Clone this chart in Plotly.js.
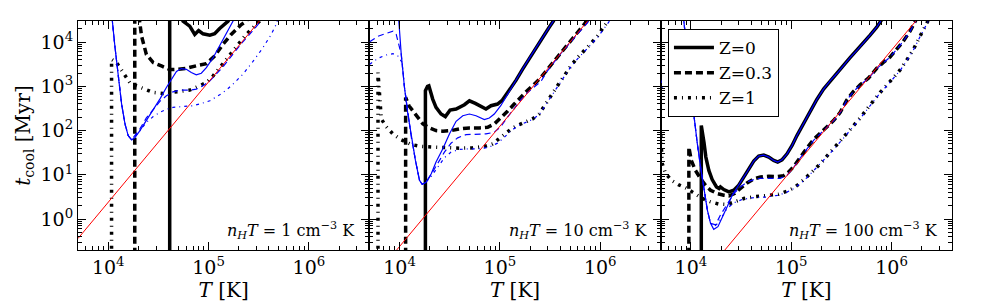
<!DOCTYPE html>
<html>
<head>
<meta charset="utf-8">
<script src="https://cdn.plot.ly/plotly-3.0.1.min.js"></script>
<style>
html,body{margin:0;padding:0;background:#fff;}
#chart{width:981px;height:302px;}
</style>
</head>
<body>
<div id="chart"></div>
<script>
// ---------- Panel 1: nH T = 1 cm^-3 K ----------
const p1_z0_T  = [4.1e4, 4.1e4, null, 5.4e4, 5.57e4, 6.49e4, 7.28e4, 7.96e4, 8.81e4, 1.03e5, 1.15e5, 1.29e5, 1.45e5, 1.56e5, 1.7e5];
const p1_z0_t  = [0.05, 1e6, null, 3.6e4, 2.96e4, 2.29e4, 1.49e4, 1.83e4, 1.54e4, 1.44e4, 1.54e4, 2.03e4, 2.58e4, 2.96e4, 4e4];
const p1_z03_T = [1.84e4, 1.84e4, null, 2.02e4, 2.15e4, 2.4e4, 2.81e4, 3.39e4, 4.1e4, 4.97e4, 6.01e4, 8.15e4, 9.51e4, 1.15e5, 1.39e5, 1.68e5, 2.12e5, 2.37e5, 2.6e5];
const p1_z03_t = [0.05, 1e6, null, 4e4, 1.36e4, 5280, 3440, 2890, 2400, 2430, 2560, 3040, 3260, 4850, 8870, 1.49e4, 2.49e4, 2.96e4, 4e4];
const p1_z1_T  = [1.08e4, 1.08e4, 1.21e4, 1.31e4, 1.47e4, 1.64e4, 1.91e4, 2.32e4, 2.81e4, 3.52e4, 4.27e4, 5.16e4, 6.49e4, 8.15e4, 9.51e4, 1.11e5, 1.39e5, 1.75e5, 2.37e5, 2.99e5, 3.22e5, 3.55e5];
const p1_z1_t  = [0.05, 4070, 3440, 2650, 1720, 1220, 1030, 865, 728, 690, 728, 793, 820, 1030, 1220, 1720, 3150, 6280, 1.49e4, 2.49e4, 2.96e4, 4.5e4];
const p1_b0_T  = [1.09e4, 1.1e4, 1.17e4, 1.26e4, 1.36e4, 1.47e4, 1.58e4, 1.71e4, 1.84e4, 2.07e4, 2.4e4, 2.81e4, 3.27e4, 3.8e4, 4.27e4, 4.79e4, 5.36e4, 6.01e4, 6.73e4, 7.55e4, 8.47e4, 9.51e4, 1.11e5, 1.29e5, 1.5e5, 1.75e5, 1.85e5];
const p1_b0_t  = [4e4, 2.96e4, 7460, 1580, 398, 141, 77.3, 61.7, 68.4, 100, 168, 282, 515, 942, 1450, 2160, 2520, 2430, 2050, 1820, 1980, 2650, 4450, 8130, 1.49e4, 2.96e4, 3.8e4];
const p1_b03_T = [1.09e4, 1.1e4, 1.17e4, 1.26e4, 1.36e4, 1.47e4, 1.58e4, 1.71e4, 2.07e4, 2.4e4, 2.81e4, 3.27e4, 3.8e4, 4.43e4, 5.16e4, 6.49e4, 7.55e4, 8.81e4, 1.03e5, 1.19e5, 1.39e5, 1.62e5, 1.89e5, 2.2e5, 2.56e5, 3.1e5, 3.3e5];
const p1_b03_t = [4e4, 2.96e4, 7460, 1580, 398, 141, 77.3, 61.7, 110, 193, 307, 457, 612, 753, 820, 820, 865, 1030, 1330, 1880, 2740, 4300, 6840, 1.02e4, 1.49e4, 2.49e4, 3.3e4];
const p1_b1_T  = [1.09e4, 1.1e4, 1.17e4, 1.26e4, 1.36e4, 1.47e4, 1.58e4, 1.71e4, 2.0e4, 2.4e4, 2.81e4, 3.27e4, 3.8e4, 4.43e4, 5.57e4, 7.0e4, 8.15e4, 1.03e5, 1.29e5, 1.5e5, 1.75e5, 2.2e5, 2.76e5, 3.48e5, 4.21e5, 4.71e5, 4.9e5];
const p1_b1_t  = [4e4, 2.96e4, 7460, 1580, 398, 141, 77.3, 61.7, 89, 154, 207, 258, 302, 335, 347, 365, 398, 472, 644, 820, 1120, 1880, 3610, 7460, 1.49e4, 2.49e4, 3.3e4];
const p1_red_T = [5000, 3.5e5];
const p1_red_t = [0.364, 3.8e4];

// ---------- Panel 2: nH T = 10 cm^-3 K ----------
const p2_z0_T  = [1.81e4, 1.81e4, 1.9e4, 1.96e4, 2.14e4, 2.31e4, 2.59e4, 2.86e4, 3.19e4, 3.66e4, 4.43e4, 4.97e4, 5.69e4, 6.49e4, 7.26e4, 8.15e4, 9.48e4, 1.06e5, 1.24e5, 1.45e5, 1.68e5, 1.96e5, 2.28e5, 2.66e5, 3.1e5, 3.4e5, 3.7e5];
const p2_z0_t  = [0.05, 800, 1000, 1030, 515, 335, 237, 207, 292, 307, 385, 472, 411, 346, 307, 365, 398, 489, 793, 1380, 2430, 4300, 7460, 1.25e4, 2.17e4, 2.96e4, 4.2e4];
const p2_z03_T = [1.15e4, 1.15e4, 1.24e4, 1.36e4, 1.52e4, 1.71e4, 1.99e4, 2.31e4, 2.7e4, 3.26e4, 3.94e4, 4.97e4, 6.24e4, 7.55e4, 8.79e4, 1.02e5, 1.19e5, 1.39e5, 1.62e5, 1.89e5, 2.2e5, 2.56e5, 2.98e5, 3.48e5, 4.05e5, 4.71e5, 5.48e5, 6.4e5, 7.45e5, 8e5];
const p2_z03_t = [0.05, 561, 365, 282, 193, 141, 115, 100, 96.6, 100, 109, 115, 115, 119, 141, 193, 272, 398, 581, 820, 1120, 1580, 2430, 3740, 5750, 8570, 1.25e4, 1.93e4, 2.96e4, 3.8e4];
const p2_z1_T  = [6100, 6100, 6580, 7360, 8590, 1.04e4, 1.31e4, 1.64e4, 2.14e4, 2.91e4, 3.94e4, 5.36e4, 7.0e4, 8.47e4, 9.86e4, 1.15e5, 1.34e5, 1.56e5, 1.82e5, 2.11e5, 2.46e5, 2.76e5, 3.22e5, 3.75e5, 4.37e5, 5.08e5, 5.93e5, 6.9e5, 8.04e5, 9.35e5, 1.05e6, 1.15e6, 1.25e6];
const p2_z1_t  = [0.05, 2050, 183, 123, 84.1, 61.7, 48.5, 43.8, 42.3, 40.8, 40.1, 40.8, 43.8, 50.2, 65, 87.3, 115, 136, 160, 183, 237, 347, 612, 1030, 1720, 2890, 4450, 6280, 9180, 1.36e4, 1.93e4, 2.58e4, 3.5e4];
const p2_b0_T  = [9.7e3, 9.84e3, 1.04e4, 1.12e4, 1.21e4, 1.31e4, 1.44e4, 1.58e4, 1.68e4, 1.84e4, 2.07e4, 2.31e4, 2.7e4, 3.14e4, 3.66e4, 4.27e4, 4.97e4, 5.78e4, 7.0e4, 7.85e4, 8.79e4, 1.02e5, 1.15e5, 1.24e5, 1.45e5, 1.68e5, 1.96e5, 2.28e5, 2.66e5, 3.1e5, 3.4e5, 3.7e5];
const p2_b0_t  = [4e4, 2.96e4, 5280, 942, 237, 71, 21.2, 7.53, 6.12, 6.79, 10.6, 19.5, 38.7, 84.1, 162, 217, 237, 217, 177, 193, 237, 365, 581, 793, 1380, 2430, 4300, 7460, 1.25e4, 2.17e4, 2.96e4, 4.2e4];
const p2_b03_T = [5040, 6100, 7360, 8590, 9270, 1.0e4, 1.04e4, 1.12e4, 1.21e4, 1.31e4, 1.44e4, 1.58e4, 1.68e4, 1.84e4, 2.07e4, 2.4e4, 2.8e4, 3.26e4, 3.8e4, 4.6e4, 5.78e4, 7.26e4, 8.79e4, 1.02e5, 1.19e5, 1.39e5, 1.62e5, 1.89e5, 2.2e5, 2.56e5, 2.98e5, 3.48e5, 4.05e5, 4.71e5, 5.48e5, 6.64e5, 7.45e5, 8e5];
const p2_b03_t = [1.02e4, 1.36e4, 1.57e4, 1.77e4, 1.49e4, 8130, 5280, 942, 237, 71, 21.2, 7.53, 6.12, 6.79, 10.3, 17.8, 32.7, 52, 68.5, 81.3, 84.1, 84.1, 91.8, 123, 200, 324, 498, 728, 975, 1290, 2230, 3610, 5560, 8280, 1.21e4, 2.03e4, 2.72e4, 3.5e4];
const p2_b1_T  = [5040, 6100, 7360, 8590, 9620, 1.06e4, 1.12e4, 1.21e4, 1.31e4, 1.44e4, 1.58e4, 1.68e4, 1.77e4, 2.07e4, 2.4e4, 2.8e4, 3.26e4, 3.94e4, 4.97e4, 6.24e4, 7.83e4, 9.48e4, 1.11e5, 1.29e5, 1.56e5, 1.82e5, 2.11e5, 2.46e5, 2.76e5, 3.22e5, 3.75e5, 4.37e5, 5.08e5, 5.93e5, 6.9e5, 8.04e5, 9.35e5, 1.05e6, 1.2e6, 1.3e6];
const p2_b1_t  = [3150, 4300, 5110, 5470, 4850, 3470, 942, 237, 71, 21.2, 7.53, 6.12, 6.34, 9.27, 15, 24.3, 32.7, 37.4, 38.7, 38.7, 42.3, 52, 70.8, 100, 132, 155, 178, 229, 331, 575, 977, 1620, 2750, 4170, 5890, 8710, 1.26e4, 1.78e4, 2.63e4, 3.5e4];
const p2_red_T = [9000, 1e6];
const p2_red_t = [0.18, 6.6e4];

// ---------- Panel 3: nH T = 100 cm^-3 K ----------
const p3_z0_T  = [1.27e4, 1.27e4, 1.35e4, 1.41e4, 1.51e4, 1.63e4, 1.8e4, 1.91e4, 1.97e4, 2.13e4, 2.39e4, 2.68e4, 3.0e4, 3.37e4, 3.78e4, 4.23e4, 4.74e4, 5.32e4, 5.97e4, 6.68e4, 7.33e4, 8.09e4, 9.08e4, 1.02e5, 1.14e5, 1.33e5, 1.55e5, 1.8e5, 2.1e5, 2.44e5, 2.85e5, 3.32e5, 3.86e5, 4.51e5, 5.25e5, 6.11e5, 7.11e5, 7.8e5, 8.5e5];
const p3_z0_t  = [0.05, 130, 54.7, 25.2, 12.6, 7.8, 5.33, 4.9, 5.33, 4.65, 4.12, 4.49, 5.82, 8.95, 13.8, 20.5, 26.5, 27.9, 25.2, 21.2, 19.5, 21.9, 29.9, 46, 77.3, 146, 282, 506, 865, 1330, 1950, 2990, 4450, 6500, 9510, 1.44e4, 2.17e4, 2.96e4, 4e4];
const p3_z03_T = [9550, 9550, 1.01e4, 1.11e4, 1.25e4, 1.4e4, 1.57e4, 1.83e4, 2.13e4, 2.39e4, 2.72e4, 3.12e4, 3.63e4, 4.23e4, 4.93e4, 5.97e4, 7.21e4, 8.41e4, 9.42e4, 1.06e5, 1.23e5, 1.44e5, 1.67e5, 1.95e5, 2.26e5, 2.64e5, 3.08e5, 3.58e5, 4.17e5, 4.86e5, 5.87e5, 7.11e5, 8.28e5, 9.66e5, 1.12e6, 1.31e6, 1.53e6, 1.71e6, 1.8e6];
const p3_z03_t = [0.05, 42.3, 21.2, 12.6, 8.2, 5.82, 4.49, 3.78, 3.47, 3.35, 3.78, 4.9, 6.56, 8.07, 8.95, 9.27, 9.1, 9.6, 11.6, 15.5, 25.2, 40.8, 62.8, 87.1, 119, 168, 258, 490, 766, 1080, 1530, 2560, 3490, 4600, 6840, 1.05e4, 1.77e4, 2.72e4, 3.6e4];
const p3_z1_T  = [5000, 5100, 5190, 5610, 6530, 7600, 8850, 1.03e4, 1.3e4, 1.57e4, 1.9e4, 2.3e4, 2.78e4, 3.37e4, 4.23e4, 5.74e4, 7.5e4, 9.08e4, 1.06e5, 1.23e5, 1.44e5, 1.67e5, 1.95e5, 2.26e5, 2.64e5, 3.08e5, 3.58e5, 4.17e5, 4.86e5, 5.66e5, 6.59e5, 7.69e5, 8.95e5, 1.04e6, 1.21e6, 1.41e6, 1.65e6, 1.85e6, 2.07e6, 2.23e6, 2.4e6];
const p3_z1_t  = [80, 30, 17.8, 10.6, 7.28, 5.92, 5.07, 4.12, 2.92, 2.45, 2.18, 2.14, 2.45, 2.92, 3.18, 3.35, 3.65, 4.27, 5.07, 6.56, 8.95, 12.6, 17.8, 26.1, 38.7, 57.7, 84.1, 127, 193, 302, 472, 728, 1060, 1530, 2310, 3870, 6840, 1.15e4, 1.93e4, 2.72e4, 3.6e4];
const p3_b0_T  = [8400, 8530, 9200, 9930, 1.07e4, 1.16e4, 1.25e4, 1.35e4, 1.46e4, 1.57e4, 1.69e4, 1.86e4, 2.05e4, 2.3e4, 2.58e4, 2.89e4, 3.24e4, 3.63e4, 4.23e4, 4.74e4, 5.32e4, 5.97e4, 6.68e4, 7.33e4, 8.09e4, 9.08e4, 1.02e5, 1.14e5, 1.33e5, 1.55e5, 1.8e5, 2.1e5, 2.44e5, 2.85e5, 3.32e5, 3.86e5, 4.51e5, 5.25e5, 6.11e5, 7.11e5, 7.8e5, 8.5e5];
const p3_b0_t  = [4e4, 2.96e4, 5280, 942, 200, 50.2, 15, 4.49, 1.6, 0.8, 0.586, 0.673, 1.04, 1.9, 3.47, 5.33, 7.8, 11.6, 20.5, 26.5, 27.9, 25.2, 21.2, 19.5, 21.9, 29.9, 46, 77.3, 146, 282, 506, 865, 1330, 1950, 2990, 4450, 6500, 9510, 1.44e4, 2.17e4, 2.96e4, 4e4];
const p3_b03_T = [8400, 8530, 9200, 9930, 1.07e4, 1.16e4, 1.25e4, 1.35e4, 1.46e4, 1.57e4, 1.76e4, 1.97e4, 2.3e4, 2.68e4, 3.12e4, 3.63e4, 4.23e4, 4.93e4, 6.19e4, 7.78e4, 9.08e4, 1.06e5, 1.23e5, 1.44e5, 1.67e5, 1.95e5, 2.26e5, 2.64e5, 3.08e5, 3.58e5, 4.17e5, 4.86e5, 5.87e5, 7.11e5, 8.28e5, 9.66e5, 1.12e6, 1.31e6, 1.53e6, 1.71e6, 1.8e6];
const p3_b03_t = [4e4, 2.96e4, 5280, 942, 200, 50.2, 15, 4.49, 1.6, 0.8, 0.741, 1.23, 2.25, 3.78, 5.33, 6.9, 7.8, 8.36, 8.36, 8.36, 9.75, 14.8, 24, 38.9, 60.3, 85.1, 117, 166, 257, 490, 759, 1070, 1510, 2510, 3390, 4570, 6760, 1.05e4, 1.74e4, 2.69e4, 3.5e4];
const p3_b1_T  = [5000, 5150, 5300, null, 8400, 8530, 9200, 9930, 1.07e4, 1.16e4, 1.25e4, 1.35e4, 1.46e4, 1.57e4, 1.69e4, 1.86e4, 2.05e4, 2.3e4, 2.68e4, 3.24e4, 4.07e4, 5.74e4, 7.5e4, 9.08e4, 1.06e5, 1.23e5, 1.44e5, 1.67e5, 1.95e5, 2.26e5, 2.64e5, 3.08e5, 3.58e5, 4.17e5, 4.86e5, 5.66e5, 6.59e5, 7.69e5, 8.95e5, 1.04e6, 1.21e6, 1.41e6, 1.65e6, 1.85e6, 2.07e6, 2.29e6, 2.45e6];
const p3_b1_t  = [1400, 1100, 800, null, 4e4, 2.96e4, 5280, 942, 200, 50.2, 15, 4.49, 1.6, 0.8, 0.673, 0.8, 1.13, 1.74, 2.33, 2.77, 3.02, 3.16, 3.47, 4.07, 4.9, 6.31, 8.71, 12.3, 17.4, 25.1, 37.2, 55.6, 81.3, 123, 186, 292, 457, 708, 1020, 1480, 2240, 3720, 6610, 1.12e4, 1.86e4, 2.82e4, 3.6e4];
const p3_red_T = [2e4, 2.5e6];
const p3_red_t = [0.158, 8.0e4];

// ---------- labels and ticks ----------
const seriesNames = ["Z=0", "Z=0.3", "Z=1"];
const panelLabels = ["1", "10", "100"];
const xTickVals = [1e4, 1e5, 1e6];
const xTickText = ["10<sup>4</sup>", "10<sup>5</sup>", "10<sup>6</sup>"];
const yTickVals = [1, 10, 100, 1000, 10000];
const yTickText = ["10<sup>0</sup>", "10<sup>1</sup>", "10<sup>2</sup>", "10<sup>3</sup>", "10<sup>4</sup>"];

// minor tick positions (2..9 x 10^n)
function minorTicks(lo, hi) {
  const v = [];
  for (let e = lo; e <= hi; e++) for (let m = 2; m <= 9; m++) v.push(m * Math.pow(10, e));
  return v;
}

const FONT = "DejaVu Serif";
const BLACK_W = 3.5, BLUE_W = 1.2;
const DASH = {solid: "solid", dashed: "7px,4px", dashdot: "3px,5px,1px,5px"};
const DASH_THIN = {solid: "solid", dashed: "6px,4px", dashdot: "3px,4px,1px,4px"};

function tr(T, t, k, color, width, dash, name, showlegend) {
  return {
    type: "scatter", mode: "lines", x: T, y: t,
    xaxis: k === 1 ? "x" : "x" + k, yaxis: k === 1 ? "y" : "y" + k,
    line: {color: color, width: width, dash: dash},
    connectgaps: false, name: name, showlegend: showlegend,
    legendgroup: name, hoverinfo: "skip"
  };
}

const panels = [
  [p1_z0_T, p1_z0_t, p1_z03_T, p1_z03_t, p1_z1_T, p1_z1_t, p1_b0_T, p1_b0_t, p1_b03_T, p1_b03_t, p1_b1_T, p1_b1_t, p1_red_T, p1_red_t],
  [p2_z0_T, p2_z0_t, p2_z03_T, p2_z03_t, p2_z1_T, p2_z1_t, p2_b0_T, p2_b0_t, p2_b03_T, p2_b03_t, p2_b1_T, p2_b1_t, p2_red_T, p2_red_t],
  [p3_z0_T, p3_z0_t, p3_z03_T, p3_z03_t, p3_z1_T, p3_z1_t, p3_b0_T, p3_b0_t, p3_b03_T, p3_b03_t, p3_b1_T, p3_b1_t, p3_red_T, p3_red_t]
];

const traces = [];
panels.forEach((d, i) => {
  const k = i + 1;
  const lg = (i === 0);
  traces.push(tr(d[0], d[1], k, "black", BLACK_W, DASH.solid, seriesNames[0], lg));
  traces.push(tr(d[2], d[3], k, "black", BLACK_W, DASH.dashed, seriesNames[1], lg));
  traces.push(tr(d[4], d[5], k, "black", BLACK_W, DASH.dashdot, seriesNames[2], lg));
  traces.push(tr(d[6], d[7], k, "#0000ff", BLUE_W, DASH_THIN.solid, "b0", false));
  traces.push(tr(d[8], d[9], k, "#0000ff", BLUE_W, DASH_THIN.dashed, "b03", false));
  traces.push(tr(d[10], d[11], k, "#0000ff", BLUE_W, DASH_THIN.dashdot, "b1", false));
  traces.push(tr(d[12], d[13], k, "#ff0000", 1, "solid", "fit", false));
});

const tickFont = {family: FONT, size: 19, color: "black"};
const titleFont = {family: FONT, size: 20, color: "black"};
function xax(i) {
  return {
    type: "log", range: [Math.log10(5000), Math.log10(4e6)],
    domain: [i / 3, (i + 1) / 3], anchor: i === 0 ? "y" : "y" + (i + 1),
    showline: true, linecolor: "black", linewidth: 1, mirror: "allticks",
    ticks: "inside", ticklen: 8, tickwidth: 1, tickcolor: "black",
    tickmode: "array", tickvals: xTickVals, ticktext: xTickText,
    showgrid: false, zeroline: false, tickfont: tickFont,
    minor: {tickmode: "array", tickvals: minorTicks(3, 6), ticks: "inside", ticklen: 4, tickwidth: 1, tickcolor: "black", showgrid: false},
    title: {text: "<i>T</i> [K]", font: titleFont, standoff: 2}
  };
}
function yax(i) {
  return {
    type: "log", range: [Math.log10(0.2), Math.log10(3e4)],
    domain: [0, 1], anchor: i === 0 ? "x" : "x" + (i + 1),
    showline: true, linecolor: "black", linewidth: 1, mirror: "allticks",
    ticks: "inside", ticklen: 8, tickwidth: 1, tickcolor: "black",
    tickmode: "array", tickvals: yTickVals, ticktext: yTickText,
    showgrid: false, zeroline: false,
    showticklabels: i === 0, tickfont: tickFont,
    minor: {tickmode: "array", tickvals: minorTicks(-1, 4), ticks: "inside", ticklen: 4, tickwidth: 1, tickcolor: "black", showgrid: false},
    title: i === 0 ? {text: "<i>t</i><sub>cool</sub> [Myr]", font: titleFont, standoff: 4} : {text: ""}
  };
}

const annotations = panelLabels.map((v, i) => ({
  xref: (i === 0 ? "x" : "x" + (i + 1)) + " domain",
  yref: (i === 0 ? "y" : "y" + (i + 1)) + " domain",
  x: 1, y: 0, xanchor: "right", yanchor: "bottom", xshift: -12, yshift: 6,
  showarrow: false,
  text: "<i>n</i><sub><i>H</i></sub><i>T</i> = " + v + " cm<sup>\u22123</sup> K",
  font: {family: FONT, size: 16, color: "black"}
}));

const layout = {
  width: 981, height: 302,
  margin: {l: 78, r: 29, t: 21, b: 52},
  paper_bgcolor: "white", plot_bgcolor: "white",
  font: {family: FONT, color: "black"},
  xaxis: xax(0), xaxis2: xax(1), xaxis3: xax(2),
  yaxis: yax(0), yaxis2: yax(1), yaxis3: yax(2),
  annotations: annotations,
  showlegend: true,
  legend: {
    x: 0.675, y: 0.965, xanchor: "left", yanchor: "top",
    bgcolor: "white", bordercolor: "black", borderwidth: 1,
    font: {family: FONT, size: 17, color: "black"},
    itemwidth: 40, tracegroupgap: 0
  }
};

Plotly.newPlot("chart", traces, layout, {staticPlot: true, displayModeBar: false});
</script>
</body>
</html>
